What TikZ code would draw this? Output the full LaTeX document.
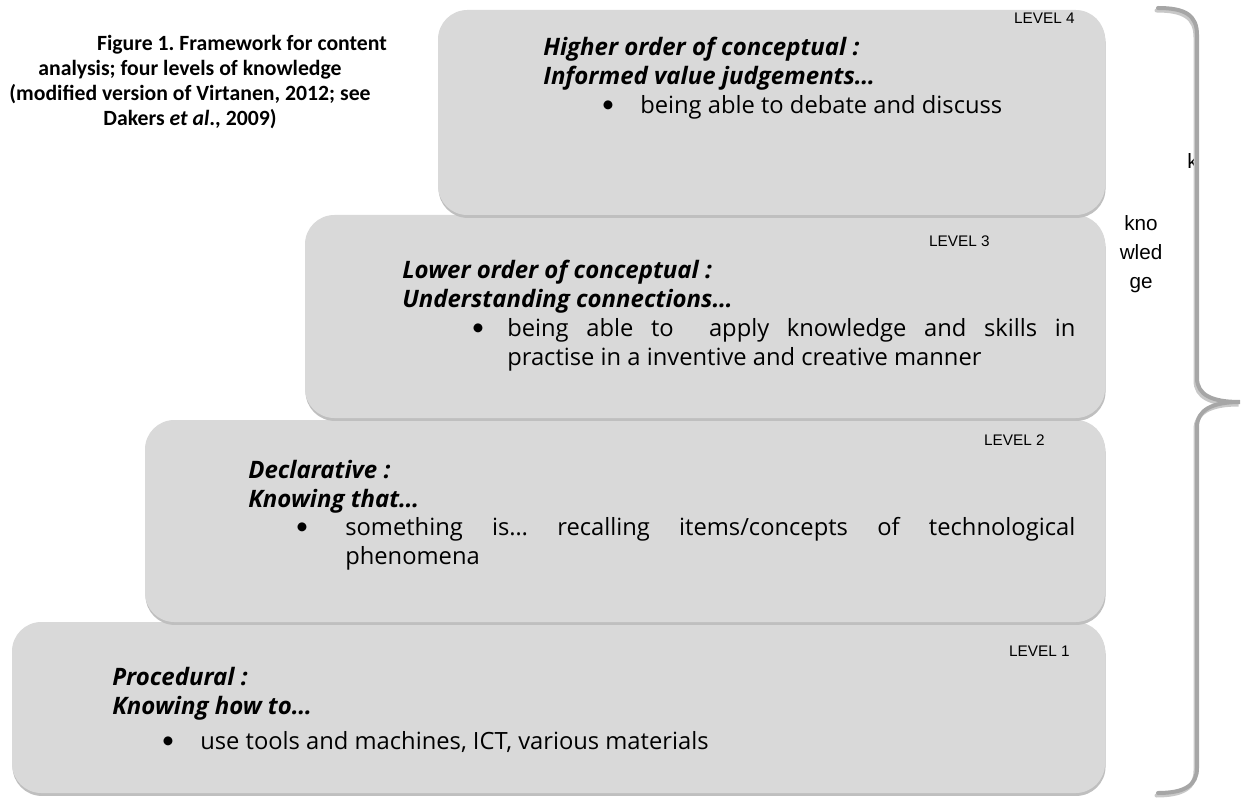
\documentclass[tikz,border=0pt]{standalone}
\usepackage{fontspec}
\setmainfont{Open Sans}
\newfontfamily\arialf{Liberation Sans}
\newfontfamily\calf{Carlito}
\newfontfamily\bulletf{Lato}
\usetikzlibrary{shadows}
\definecolor{boxgray}{HTML}{D9D9D9}
\definecolor{shadowgray}{HTML}{BFBFBF}
\definecolor{bracegray}{HTML}{A6A6A6}
\definecolor{braceshade}{HTML}{C8C8C8}
\tikzset{
  levelbox/.style={fill=boxgray, draw=none, rounded corners=22pt, inner sep=0pt,
    drop shadow={shadow xshift=0.4pt, shadow yshift=-2.2pt, fill=shadowgray, opacity=1}},
  levellabel/.style={font=\arialf\fontsize{11.5}{14}\selectfont, anchor=east, inner sep=0pt},
  heading/.style={font=\bfseries\itshape\fontsize{18}{21.75}\selectfont, align=left, anchor=north west, inner sep=0pt},
  bulletmark/.style={font=\bulletf\fontsize{18}{21.75}\selectfont, inner sep=0pt},
  itemtext/.style={font=\fontsize{17.8}{21.75}\selectfont, anchor=north west, inner sep=0pt, align=justify},
  bracestyle/.style={line width=3pt, line cap=round, draw=bracegray},
}
\begin{document}
\frenchspacing
\begin{tikzpicture}[x=0.75pt,y=-0.75pt]
\useasboundingbox (0,0) rectangle (1241,798);
% boxes
\node[levelbox, minimum width=819.75pt, minimum height=128.25pt] (b1) at (558.5,707.5) {};
\node[levelbox, minimum width=720pt, minimum height=151.5pt] (b2) at (625,521) {};
\node[levelbox, minimum width=600pt, minimum height=152.25pt] (b3) at (705,316.5) {};
\node[levelbox, minimum width=500.25pt, minimum height=153.75pt] (b4) at (771.5,112.5) {};
% level 4
\node[levellabel] (l4) at (1075,18) {LEVEL 4};
\node[heading] (h4) at (543,37) {Higher order of conceptual :\\Informed value judgements…};
\node[bulletmark] (d4) at (608,107) {•};
\node[itemtext, anchor=north west, align=left] (t4) at (640,95) {being able to debate and discuss};
% level 3
\node[levellabel] (l3) at (990,241) {LEVEL 3};
\node[heading] (h3) at (402,260) {Lower order of conceptual :\\Understanding connections…};
\node[bulletmark] (d3) at (478,330) {•};
\node[itemtext, text width=426pt] (t3) at (507,318) {being able to\ \ apply knowledge and skills in\linebreak practise in a inventive and creative manner};
% level 2
\node[levellabel] (l2) at (1045,440) {LEVEL 2};
\node[heading] (h2) at (248,460) {Declarative :\\Knowing that…};
\node[bulletmark] (d2) at (302,529) {•};
\node[itemtext, text width=547.5pt] (t2) at (345,517) {something is… recalling items/concepts of technological\linebreak phenomena};
% level 1
\node[levellabel] (l1) at (1070,651) {LEVEL 1};
\node[heading] (h1) at (112,667) {Procedural :\\Knowing how to…};
\node[bulletmark] (d1) at (168,743) {•};
\node[itemtext, align=left] (t1) at (200,731) {use tools and machines, ICT, various materials};
% caption
\node[font=\calf\bfseries\fontsize{16.3}{18.75}\selectfont, align=center, anchor=north, inner sep=0pt] (cap) at (190,35)
  {\hspace*{78pt}Figure 1. Framework for content\\analysis; four levels of knowledge\\(modified version of Virtanen, 2012; see\\Dakers \textit{et al}., 2009)};
% side label
\node[font=\arialf\fontsize{15.5}{21.75}\selectfont, align=center, inner sep=0pt] (kn) at (1141,254) {kno\\wled\\ge};
\begin{scope}
\clip (1180,140) rectangle (1193,180);
\node[font=\arialf\fontsize{15.5}{18}\selectfont, anchor=west, inner sep=0pt] (kk) at (1187,161) {k};
\end{scope}
% brace
\draw[bracestyle, draw=braceshade, shift={(-1.5,2.5)}]
  (1158,8) .. controls (1185,8) and (1197,15) .. (1197,35) -- (1197,378)
  .. controls (1197,395) and (1212,402) .. (1240,402)
  .. controls (1212,402) and (1197,410) .. (1197,427) -- (1197,768)
  .. controls (1197,785) and (1185,793) .. (1158,793);
\draw[bracestyle]
  (1158,8) .. controls (1185,8) and (1197,15) .. (1197,35) -- (1197,378)
  .. controls (1197,395) and (1212,402) .. (1240,402)
  .. controls (1212,402) and (1197,410) .. (1197,427) -- (1197,768)
  .. controls (1197,785) and (1185,793) .. (1158,793);
\end{tikzpicture}
\end{document}
